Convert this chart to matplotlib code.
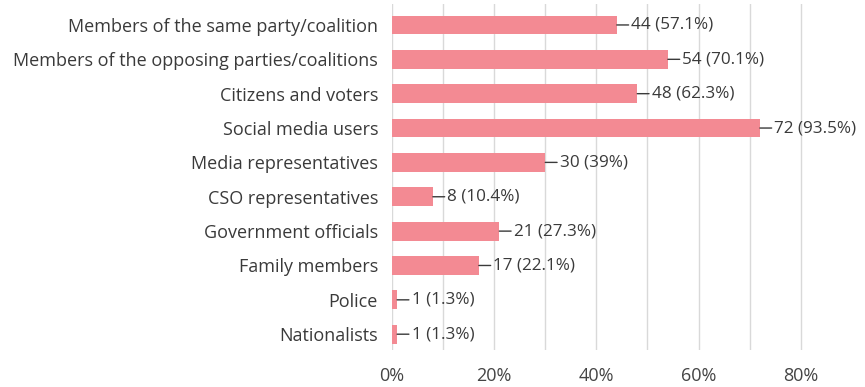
import matplotlib.pyplot as plt

plt.rcParams['font.family'] = ['Open Sans', 'DejaVu Sans']

categories = [
    "Members of the same party/coalition",
    "Members of the opposing parties/coalitions",
    "Citizens and voters",
    "Social media users",
    "Media representatives",
    "CSO representatives",
    "Government officials",
    "Family members",
    "Police",
    "Nationalists",
]
counts = [44, 54, 48, 72, 30, 8, 21, 17, 1, 1]
shares = ["57.1%", "70.1%", "62.3%", "93.5%", "39%", "10.4%", "27.3%", "22.1%", "1.3%", "1.3%"]
tick_values = [0, 20, 40, 60, 80]
tick_labels = ["0%", "20%", "40%", "60%", "80%"]

fig = plt.figure(figsize=(8.65, 3.87), dpi=100)
ax = fig.add_axes([392 / 865, 1 - 350 / 387, (860 - 392) / 865, 346 / 387])

ypos = list(range(len(categories)))
ax.barh(ypos, counts, height=0.55, color="#f38a93", zorder=2)

for y, c, s in zip(ypos, counts, shares):
    ax.annotate(f"{c} ({s})", xy=(c, y), xytext=(10.5, 0), textcoords="offset points",
                va="center", ha="left", fontsize=12.3, color="#3a3a3a",
                arrowprops=dict(arrowstyle="-", color="#3a3a3a", lw=1, shrinkA=0, shrinkB=0))

ax.set_xlim(0, 91.6)
ax.set_ylim(9.46, -0.61)
ax.set_yticks(ypos)
ax.set_yticklabels(categories, fontsize=13.0, color="#3a3a3a")
ax.set_xticks(tick_values)
ax.set_xticklabels(tick_labels, fontsize=13.0, color="#444444")
ax.set_xticks(range(0, 81, 10), minor=True)
ax.grid(axis="x", which="both", color="#d9d9d9", lw=1, zorder=0)
ax.tick_params(axis="both", which="both", length=0)
ax.tick_params(axis="y", pad=10)
ax.tick_params(axis="x", pad=12)
for sp in ax.spines.values():
    sp.set_visible(False)

fig.savefig("out.png", dpi=100)
